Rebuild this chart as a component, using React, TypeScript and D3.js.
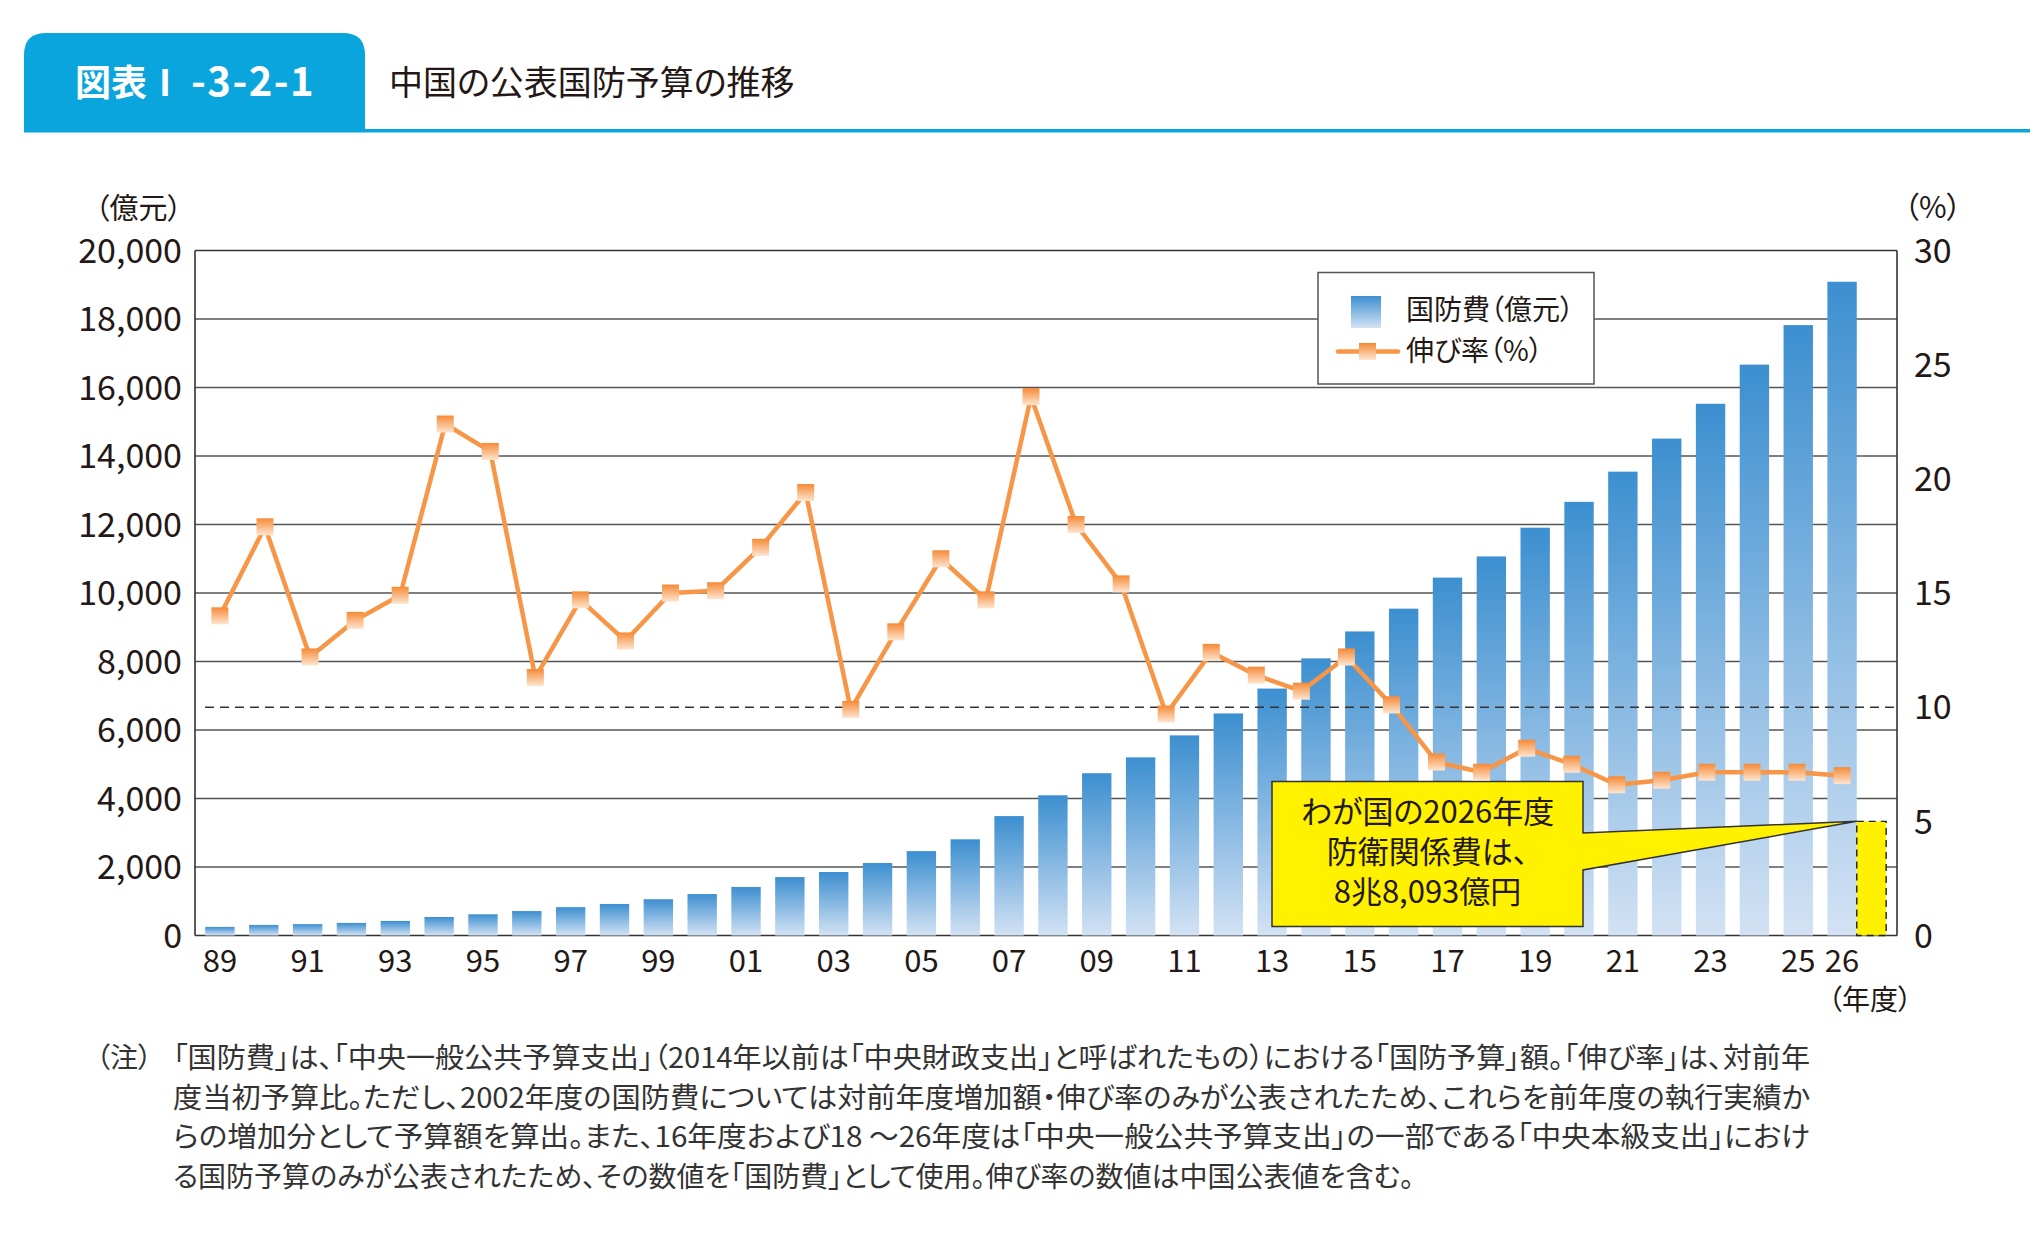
import { useEffect, useRef } from "react";
import * as d3 from "d3";

// 国防費（億元）, fiscal years 1989–2026
const years = [
  "1989", "1990", "1991", "1992", "1993", "1994", "1995", "1996", "1997", "1998",
  "1999", "2000", "2001", "2002", "2003", "2004", "2005", "2006", "2007", "2008",
  "2009", "2010", "2011", "2012", "2013", "2014", "2015", "2016", "2017", "2018",
  "2019", "2020", "2021", "2022", "2023", "2024", "2025", "2026",
];
const budget = [
  251, 309, 332, 367, 425, 540, 620, 714, 828, 921,
  1058, 1210, 1417, 1706, 1854, 2117, 2464, 2808, 3487, 4094,
  4738, 5201, 5843, 6484, 7210, 8091, 8878, 9543, 10449, 11067,
  11907, 12662, 13543, 14508, 15525, 16668, 17822, 19088,
];

// 伸び率（%）: 37 points, spread over the same span as the bars
const rateYears = [
  "1989", "1990", "1991", "1992", "1993", "1994", "1995", "1996", "1997", "1998",
  "1999", "2000", "2001", "2002", "2003", "2004", "2005", "2006", "2007", "2008",
  "2009", "2010", "2011", "2012", "2013", "2014", "2015", "2016", "2017", "2018",
  "2019", "2020", "2021", "2022", "2023", "2024", "2025",
];
const rates = [
  14.0, 17.9, 12.2, 13.8, 14.9, 22.4, 21.2, 11.3, 14.7, 12.9,
  15.0, 15.1, 17.0, 19.4, 9.9, 13.3, 16.5, 14.7, 23.6, 18.0,
  15.4, 9.7, 12.4, 11.4, 10.7, 12.2, 10.1, 7.6, 7.15, 8.2,
  7.5, 6.6, 6.8, 7.15, 7.15, 7.15, 7.0,
];

const leftTicks = [0, 2000, 4000, 6000, 8000, 10000, 12000, 14000, 16000, 18000, 20000];
const rightTicks = [0, 5, 10, 15, 20, 25, 30];
const referenceRate = 10;
// わが国の2026年度防衛関係費 on the 億元 scale
const japanBudget = 3333;

const calloutLines = ["わが国の2026年度", "防衛関係費は、", "8兆8,093億円"];
const noteLines = [
  "「国防費」は、「中央一般公共予算支出」（2014年以前は「中央財政支出」と呼ばれたもの）における「国防予算」額。「伸び率」は、対前年",
  "度当初予算比。ただし、2002年度の国防費については対前年度増加額・伸び率のみが公表されたため、これらを前年度の執行実績か",
  "らの増加分として予算額を算出。また、16年度および18 ～26年度は「中央一般公共予算支出」の一部である「中央本級支出」におけ",
  "る国防予算のみが公表されたため、その数値を「国防費」として使用。伸び率の数値は中国公表値を含む。",
];

const FONT = '"Noto Sans CJK JP", "Noto Sans", sans-serif';
const INK = "#231815";
const BLUE = "#0ba5dd";
const ORANGE = "#f79646";

export default function App() {
  const svgRef = useRef<SVGSVGElement>(null);
  const width = 2030;
  const height = 1234;

  useEffect(() => {
    if (!svgRef.current) return;
    const svg = d3.select(svgRef.current);
    svg.selectAll("*").remove();

    const plot = { left: 195, right: 1897, top: 250.5, bottom: 935.5 };

    const x = d3
      .scaleBand<string>()
      .domain(years)
      .range([198, 1864])
      .paddingInner(0.33)
      .paddingOuter(0.165);
    const bw = x.bandwidth();
    const xl = d3
      .scalePoint<string>()
      .domain(rateYears)
      .range([x(years[0])! + bw / 2, x(years[years.length - 1])! + bw / 2]);
    const yL = d3.scaleLinear().domain([0, 20000]).range([plot.bottom, plot.top]);
    const yR = d3.scaleLinear().domain([0, 30]).range([plot.bottom, plot.top]);

    const defs = svg.append("defs");
    const bg = defs.append("linearGradient").attr("id", "barGrad").attr("x1", 0).attr("y1", 0).attr("x2", 0).attr("y2", 1);
    bg.append("stop").attr("offset", 0).attr("stop-color", "#3c8fd0");
    bg.append("stop").attr("offset", 1).attr("stop-color", "#d3e2f4");
    const mg = defs.append("linearGradient").attr("id", "mkGrad").attr("x1", 0).attr("y1", 0).attr("x2", 0).attr("y2", 1);
    mg.append("stop").attr("offset", 0).attr("stop-color", "#f68a36");
    mg.append("stop").attr("offset", 1).attr("stop-color", "#fde5d0");

    svg.append("rect").attr("width", width).attr("height", height).attr("fill", "#fff");

    // Header
    svg
      .append("path")
      .attr("d", "M24,131 V55 Q24,33 46,33 H343 Q365,33 365,55 V131 Z")
      .attr("fill", BLUE);
    svg.append("rect").attr("x", 24).attr("y", 129).attr("width", width - 24).attr("height", 3.5).attr("fill", BLUE);
    const tab = svg
      .append("text")
      .attr("x", 75)
      .attr("y", 96)
      .attr("fill", "#fff")
      .style("font-weight", "700");
    tab.append("tspan").style("font-size", "36px").text("図表Ⅰ");
    tab.append("tspan").attr("dx", 8).style("font-size", "40px").style("letter-spacing", "1.5px").text("-3-2-1");
    svg
      .append("text")
      .attr("x", 389)
      .attr("y", 95)
      .attr("fill", INK)
      .style("font-size", "34px")
      .style("font-weight", "400")
      .text("中国の公表国防予算の推移");

    // Gridlines
    svg
      .append("g")
      .selectAll("line")
      .data(leftTicks)
      .join("line")
      .attr("x1", plot.left)
      .attr("x2", plot.right)
      .attr("y1", (d) => yL(d))
      .attr("y2", (d) => yL(d))
      .attr("stroke", (d) => (d === 0 || d === 20000 ? "#333" : "#555"))
      .attr("stroke-width", 1.6);
    svg.append("line").attr("x1", plot.left).attr("x2", plot.left).attr("y1", plot.top).attr("y2", plot.bottom).attr("stroke", "#333").attr("stroke-width", 1.6);
    svg.append("line").attr("x1", plot.right).attr("x2", plot.right).attr("y1", plot.top).attr("y2", plot.bottom).attr("stroke", "#333").attr("stroke-width", 1.6);

    // Bars
    svg
      .append("g")
      .selectAll("rect")
      .data(years)
      .join("rect")
      .attr("x", (d) => x(d)!)
      .attr("y", (_, i) => yL(budget[i]))
      .attr("width", bw)
      .attr("height", (_, i) => plot.bottom - yL(budget[i]))
      .attr("fill", "url(#barGrad)");

    // Japan 2026 box
    const jx = x(years[years.length - 1])! + bw;
    svg
      .append("rect")
      .attr("x", jx)
      .attr("y", yL(japanBudget))
      .attr("width", bw)
      .attr("height", plot.bottom - yL(japanBudget))
      .attr("fill", "#fff100")
      .attr("stroke", "#222")
      .attr("stroke-width", 1.4)
      .attr("stroke-dasharray", "7,5");

    // 10% reference
    svg
      .append("line")
      .attr("x1", 205)
      .attr("x2", plot.right)
      .attr("y1", yR(referenceRate))
      .attr("y2", yR(referenceRate))
      .attr("stroke", "#333")
      .attr("stroke-width", 1.5)
      .attr("stroke-dasharray", "9,6");

    // Callout
    const tipX = jx;
    const tipY = yL(japanBudget);
    const box = { x0: 1272, x1: 1583, y0: 781.5, y1: 926.5 };
    svg
      .append("path")
      .attr(
        "d",
        `M${box.x0},${box.y0} H${box.x1} V833 L${tipX},${tipY} L${box.x1},870 V${box.y1} H${box.x0} Z`
      )
      .attr("fill", "#fff100")
      .attr("stroke", "#333")
      .attr("stroke-width", 1.5)
      .attr("stroke-linejoin", "miter");
    const cx = (box.x0 + box.x1) / 2;
    const callout = svg
      .append("text")
      .attr("x", cx)
      .attr("y", 823)
      .attr("text-anchor", "middle")
      .attr("fill", INK)
      .style("font-size", "31px");
    callout
      .selectAll("tspan")
      .data(calloutLines)
      .join("tspan")
      .attr("x", cx)
      .attr("dy", (_, i) => (i === 0 ? 0 : 40))
      .text((d) => d);

    // Growth-rate line
    const line = d3
      .line<number>()
      .x((_, i) => xl(rateYears[i])!)
      .y((d) => yR(d));
    svg
      .append("path")
      .datum(rates)
      .attr("d", line)
      .attr("fill", "none")
      .attr("stroke", ORANGE)
      .attr("stroke-width", 4.5)
      .attr("stroke-linejoin", "round");
    const ms = 17;
    svg
      .append("g")
      .selectAll("rect")
      .data(rates)
      .join("rect")
      .attr("x", (_, i) => xl(rateYears[i])! - ms / 2)
      .attr("y", (d) => yR(d) - ms / 2)
      .attr("width", ms)
      .attr("height", ms)
      .attr("fill", "url(#mkGrad)");

    // Left axis labels
    svg
      .append("g")
      .selectAll("text")
      .data(leftTicks)
      .join("text")
      .attr("x", 182)
      .attr("y", (d) => yL(d))
      .attr("dy", "0.36em")
      .attr("text-anchor", "end")
      .attr("fill", INK)
      .style("font-size", "34px")
      .text((d) => d3.format(",")(d));
    svg
      .append("text")
      .attr("x", 182)
      .attr("y", 219)
      .attr("text-anchor", "end")
      .attr("fill", INK)
      .style("font-size", "29px")
      .text("（億元）");

    // Right axis labels
    svg
      .append("g")
      .selectAll("text")
      .data(rightTicks)
      .join("text")
      .attr("x", 1914)
      .attr("y", (d) => yR(d))
      .attr("dy", "0.36em")
      .attr("fill", INK)
      .style("font-size", "34px")
      .text((d) => String(d));
    svg
      .append("text")
      .attr("x", 1904)
      .attr("y", 218)
      .attr("fill", INK)
      .style("font-size", "30px")
      .text("（%）");

    // X labels
    const xLabels = years.filter((d, i) => +d % 2 === 1 || i === years.length - 1);
    svg
      .append("g")
      .selectAll("text")
      .data(xLabels)
      .join("text")
      .attr("x", (d) => x(d)! + bw / 2)
      .attr("y", 972)
      .attr("text-anchor", "middle")
      .attr("fill", INK)
      .style("font-size", "31px")
      .text((d) => d.slice(2));
    svg
      .append("text")
      .attr("x", 1828)
      .attr("y", 1010)
      .attr("fill", INK)
      .style("font-size", "28px")
      .text("（年度）");

    // Legend
    const lg = svg.append("g");
    lg.append("rect")
      .attr("x", 1318)
      .attr("y", 272.5)
      .attr("width", 276)
      .attr("height", 111.5)
      .attr("fill", "#fff")
      .attr("stroke", "#555")
      .attr("stroke-width", 1.5);
    lg.append("rect").attr("x", 1351).attr("y", 296).attr("width", 30).attr("height", 32).attr("fill", "url(#barGrad)");
    lg.append("text").attr("x", 1406).attr("y", 320).attr("fill", INK).style("font-size", "28px").text("国防費（億元）");
    lg.append("line")
      .attr("x1", 1338)
      .attr("x2", 1398)
      .attr("y1", 351.5)
      .attr("y2", 351.5)
      .attr("stroke", ORANGE)
      .attr("stroke-width", 4.5)
      .attr("stroke-linecap", "round");
    lg.append("rect").attr("x", 1359).attr("y", 343).attr("width", ms).attr("height", ms).attr("fill", "url(#mkGrad)");
    lg.append("text").attr("x", 1406).attr("y", 361).attr("fill", INK).style("font-size", "28px").text("伸び率（%）");

    // Note
    svg
      .append("text")
      .attr("x", 96)
      .attr("y", 1068)
      .attr("fill", "#333")
      .style("font-size", "28px")
      .text("（注）");
    svg
      .append("g")
      .selectAll("text")
      .data(noteLines)
      .join("text")
      .attr("x", 173)
      .attr("y", (_, i) => 1068 + i * 39.5)
      .attr("fill", "#333")
      .style("font-size", "28px")
      .attr("textLength", (_, i) => (i < 3 ? 1637 : null))
      .attr("lengthAdjust", "spacingAndGlyphs")
      .text((d) => d);
  }, []);

  return (
    <svg
      ref={svgRef}
      width={width}
      height={height}
      style={{
        position: "absolute",
        left: 0,
        top: 0,
        fontFamily: FONT,
        fontFeatureSettings: '"palt"',
      }}
    />
  );
}
